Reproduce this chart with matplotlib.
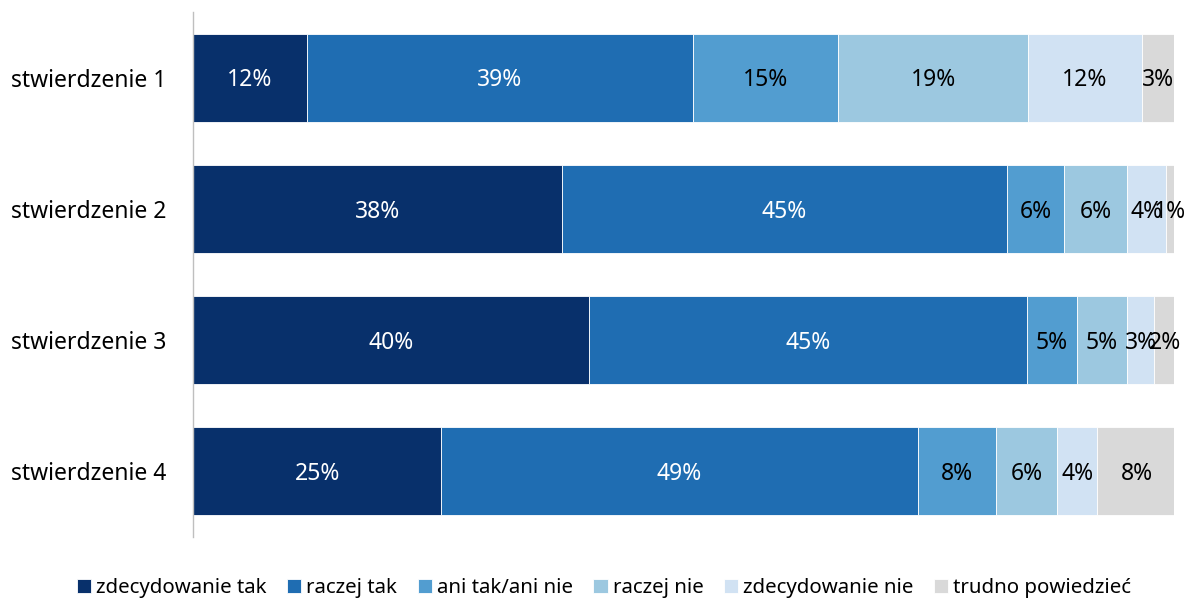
import matplotlib
matplotlib.use("Agg")
import matplotlib.pyplot as plt
import numpy as np

plt.rcParams['font.family'] = ['Noto Sans', 'DejaVu Sans']

categories = ["stwierdzenie 1", "stwierdzenie 2", "stwierdzenie 3", "stwierdzenie 4"]
series_names = ["zdecydowanie tak", "raczej tak", "ani tak/ani nie",
                "raczej nie", "zdecydowanie nie", "trudno powiedzieć"]
zdecydowanie_tak = [11.6, 37.6, 40.4, 25.3]
raczej_tak = [39.4, 45.4, 44.6, 48.6]
ani_tak_ani_nie = [14.8, 5.8, 5.1, 8.0]
raczej_nie = [19.3, 6.4, 5.1, 6.2]
zdecydowanie_nie = [11.6, 4.0, 2.8, 4.1]
trudno_powiedziec = [3.3, 0.8, 2.1, 8.0]
series_values = [zdecydowanie_tak, raczej_tak, ani_tak_ani_nie,
                 raczej_nie, zdecydowanie_nie, trudno_powiedziec]
colors = ["#08306b", "#1f6db2", "#529dd0", "#9cc8e0", "#d1e2f3", "#d9d9d9"]
text_colors = ["white", "white", "black", "black", "black", "black"]

fig = plt.figure(figsize=(11.96, 6.01), dpi=100)
ax = fig.add_axes([193/1196, 1 - 537/601, 981/1196, 525/601])

y = np.arange(len(categories))
left = np.zeros(len(categories))
for name, vals, c, tc in zip(series_names, series_values, colors, text_colors):
    vals = np.array(vals)
    ax.barh(y, vals, left=left, height=0.67, color=c, label=name,
            edgecolor="white", linewidth=0.6)
    for yi, l, v in zip(y, left, vals):
        ax.text(l + v / 2, yi + 0.02, f"{round(v)}%", ha="center", va="center",
                color=tc, fontsize=16.5)
    left += vals

ax.set_xlim(0, 100)
ax.set_ylim(3.5, -0.5)
ax.set_yticks(y)
ax.set_yticklabels(categories, fontsize=16.5)
ax.tick_params(axis="y", length=0, pad=19)
ax.set_xticks([])
for s in ["top", "right", "bottom"]:
    ax.spines[s].set_visible(False)
ax.spines["left"].set_color("#bfbfbf")
ax.spines["left"].set_linewidth(1)

fig.legend(loc="center", bbox_to_anchor=(604/1196, 1 - 588/601), ncol=6,
           frameon=False, fontsize=14.7, handlelength=0.7, handleheight=0.7,
           handletextpad=0.25, columnspacing=1.0)

fig.savefig("out.png", dpi=100)
